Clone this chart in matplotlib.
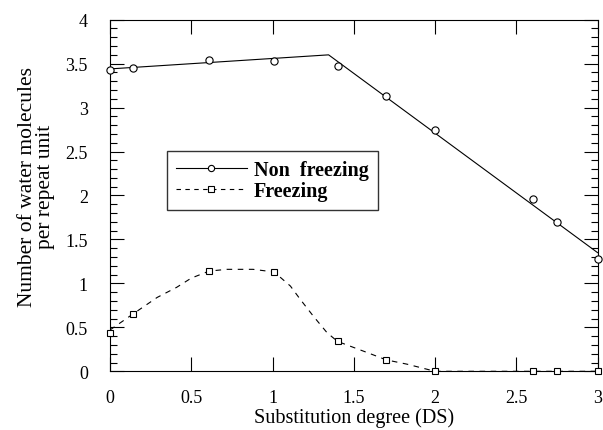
import matplotlib
matplotlib.use("Agg")
import matplotlib.pyplot as plt
from matplotlib.ticker import MultipleLocator, FuncFormatter
from matplotlib.lines import Line2D

plt.rcParams['font.family'] = ['Liberation Serif', 'DejaVu Serif']

# Data
ds = [0.0, 0.14, 0.61, 1.01, 1.40, 1.70, 2.00, 2.60, 2.75, 3.00]
non_freezing = [3.43, 3.45, 3.54, 3.53, 3.47, 3.13, 2.75, 1.96, 1.70, 1.28]
freezing = [0.44, 0.65, 1.14, 1.13, 0.34, 0.13, 0.0, 0.0, 0.0, 0.0]

# Fitted non-freezing line (piecewise linear)
fit_x = [0.0, 1.345, 3.0]
fit_y = [3.44, 3.60, 1.35]

# Smooth freezing curve
curve_x = [0.0, 0.14, 0.29, 0.41, 0.50, 0.61, 0.72, 0.88, 1.01, 1.11, 1.17, 1.25,
           1.335, 1.40, 1.58, 1.70, 1.83, 2.00, 3.00]
curve_y = [0.47, 0.65, 0.84, 0.955, 1.06, 1.14, 1.16, 1.16, 1.13, 0.97, 0.82, 0.63,
           0.44, 0.34, 0.215, 0.13, 0.08, 0.0, 0.0]

fig = plt.figure(figsize=(6.03, 4.31), dpi=100)
ax = fig.add_axes([0.1824, 0.1362, 0.8086, 0.8158])

ax.plot(fit_x, fit_y, color='black', lw=0.8)
ax.plot(ds, non_freezing, linestyle='none', marker='o', ms=5.2, mfc='white',
        mec='black', mew=0.8, clip_on=False, zorder=3)
ax.plot(curve_x, curve_y, color='black', lw=0.8, linestyle=(0, (5, 5)))
ax.plot(ds, freezing, linestyle='none', marker='s', ms=4.6, mfc='white',
        mec='black', mew=0.8, clip_on=False, zorder=3)

ax.set_xlim(0, 3)
ax.set_ylim(0, 4)
ax.xaxis.set_major_locator(MultipleLocator(0.5))
ax.yaxis.set_major_locator(MultipleLocator(0.5))
ax.yaxis.set_minor_locator(MultipleLocator(0.1))
fmt = FuncFormatter(lambda v, p: ('%g' % v))
ax.xaxis.set_major_formatter(fmt)
ax.yaxis.set_major_formatter(fmt)
ax.tick_params(which='both', direction='in', top=True, right=True, width=0.8)
ax.tick_params(which='major', length=10, labelsize=13)
ax.tick_params(which='minor', length=5)
ax.tick_params(axis='x', pad=13)
ax.tick_params(axis='y', pad=16)
for s in ax.spines.values():
    s.set_linewidth(0.8)

ax.set_xlabel('Substitution degree (DS)', fontsize=14.5, labelpad=1)
ax.set_ylabel('Number of water molecules\nper repeat unit', fontsize=15.5,
              linespacing=0.9)
ax.yaxis.set_label_coords(-0.113, 0.527)

h1 = Line2D([], [], color='black', lw=0.8, marker='o', ms=4.5, mfc='white', mew=0.8)
h2 = Line2D([], [], color='black', lw=0.8, linestyle=(0, (4, 4)), marker='s', ms=4.0,
            mfc='white', mew=0.8)
leg = ax.legend([h1, h2], ['Non  freezing', 'Freezing'], loc='upper left',
                bbox_to_anchor=(0.117, 0.627), borderaxespad=0, frameon=True,
                fancybox=False, edgecolor='black', handlelength=3.5,
                handletextpad=0.35, borderpad=0.45, labelspacing=0.05,
                prop={'weight': 'bold', 'size': 14.5})
leg.get_frame().set_linewidth(1.0)

fig.savefig('out.png', dpi=100)
